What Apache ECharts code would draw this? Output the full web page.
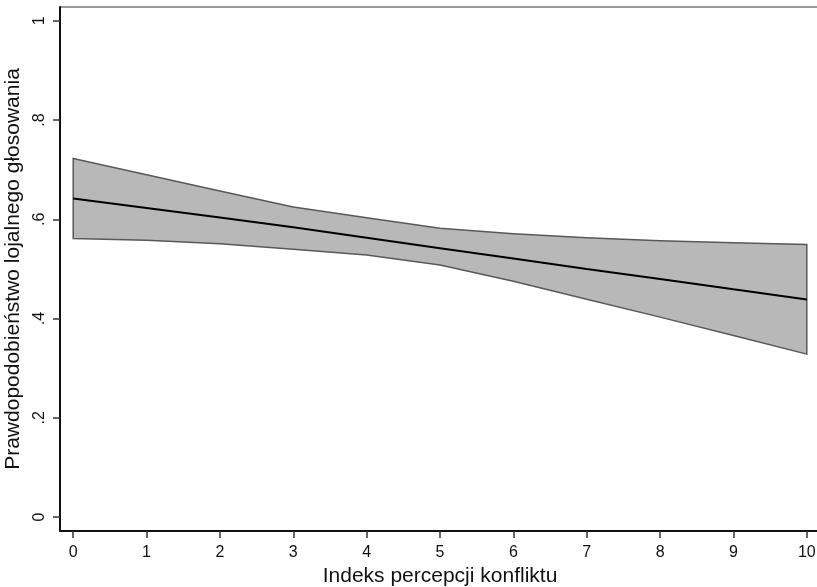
<!DOCTYPE html>
<html>
<head>
<meta charset="utf-8">
<script src="https://cdn.jsdelivr.net/npm/echarts@6/dist/echarts.min.js"></script>
<style>
  html, body { margin: 0; padding: 0; background: #fff; overflow: hidden; }
  /* slightly wider than the window: the right frame edge is cut off like in the original */
  #main { width: 820px; height: 587px; }
</style>
</head>
<body>
<div id="main"></div>
<script>
// indeks percepcji konfliktu (0..10)
var xValues = [0, 1, 2, 3, 4, 5, 6, 7, 8, 9, 10];
// przewidywane prawdopodobieństwo
var meanValues = [0.642, 0.623, 0.604, 0.584, 0.563, 0.542, 0.521, 0.500, 0.480, 0.459, 0.4386];
// przedział ufności
var upperValues = [0.7228, 0.690, 0.657, 0.625, 0.6035, 0.582, 0.571, 0.563, 0.557, 0.553, 0.5495];
var lowerValues = [0.5615, 0.558, 0.551, 0.540, 0.528, 0.508, 0.4755, 0.439, 0.403, 0.366, 0.3284];
var xTicks = [0, 1, 2, 3, 4, 5, 6, 7, 8, 9, 10];
var yTicks = [0, 0.2, 0.4, 0.6, 0.8, 1];

var myChart = echarts.init(document.getElementById("main"));
var font = "Liberation Sans, Arial, Helvetica, sans-serif";

var option = {
  animation: false,
  backgroundColor: "#fff",
  grid: {
    left: 60,
    top: 7,
    right: 0,
    bottom: 56,
    outerBoundsMode: "none",
    containLabel: false,
    show: true,
    borderColor: "#333",
    borderWidth: 1,
  },
  xAxis: {
    type: "value",
    min: -0.18,
    max: 10.18,
    name: "Indeks percepcji konfliktu",
    nameLocation: "middle",
    nameGap: 29,
    nameTextStyle: { color: "#111", fontSize: 21, fontFamily: font },
    axisLine: { show: true, onZero: false, lineStyle: { color: "#111", width: 2 } },
    axisTick: { show: true, length: 7, customValues: xTicks, lineStyle: { color: "#333", width: 1.5 } },
    axisLabel: { customValues: xTicks, margin: 14, color: "#111", fontSize: 16, fontFamily: font },
    splitLine: { show: false },
  },
  yAxis: {
    type: "value",
    min: -0.028,
    max: 1.028,
    name: "Prawdopodobieństwo lojalnego głosowania",
    nameLocation: "middle",
    nameGap: 31,
    nameTextStyle: { color: "#111", fontSize: 21, fontFamily: font },
    axisLine: { show: true, onZero: false, lineStyle: { color: "#111", width: 2 } },
    axisTick: { show: true, length: 7, customValues: yTicks, lineStyle: { color: "#333", width: 1.5 } },
    axisLabel: {
      customValues: yTicks,
      rotate: 90,
      margin: 12,
      color: "#111",
      fontSize: 16,
      fontFamily: font,
      formatter: function (v) {
        if (v === 0) return "0";
        if (v === 1) return "1";
        return String(+v.toFixed(1)).replace(/^0/, "");
      },
    },
    splitLine: { show: false },
  },
  series: [
    {
      type: "custom",
      silent: true,
      data: [[xValues[0], lowerValues[0]]],
      renderItem: function (params, api) {
        var pts = [];
        for (var i = 0; i < xValues.length; i++) {
          pts.push(api.coord([xValues[i], upperValues[i]]));
        }
        for (var j = xValues.length - 1; j >= 0; j--) {
          pts.push(api.coord([xValues[j], lowerValues[j]]));
        }
        return {
          type: "polygon",
          shape: { points: pts },
          style: { fill: "#b8b8b8", stroke: "#595959", lineWidth: 1.5 },
        };
      },
      z: 1,
    },
    {
      type: "line",
      silent: true,
      data: xValues.map(function (x, i) { return [x, meanValues[i]]; }),
      showSymbol: false,
      lineStyle: { color: "#000", width: 2 },
      z: 2,
    },
  ],
};
myChart.setOption(option);
</script>
</body>
</html>
